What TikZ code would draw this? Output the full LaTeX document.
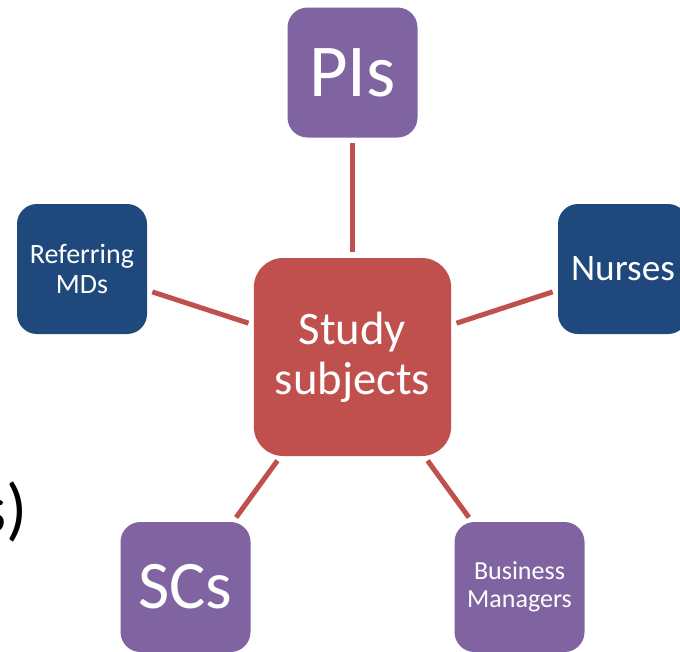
\documentclass[tikz,border=0pt]{standalone}
\usepackage{fontspec}
\setmainfont{Carlito}
\definecolor{boxpurple}{HTML}{8064A2}
\definecolor{boxblue}{HTML}{1F497D}
\definecolor{boxred}{HTML}{C0504D}
\begin{document}
\begin{tikzpicture}[x=0.75pt,y=-0.75pt,
    role/.style={rounded corners=15pt,text=white,minimum width=97.5pt,minimum height=97.5pt,align=center,inner sep=0pt},
    hub/.style={role,fill=boxred,minimum width=148pt,minimum height=148.5pt,rounded corners=22pt},
    link/.style={draw=boxred,line width=3.75pt,shorten >=4pt,shorten <=4pt}]
    \useasboundingbox (0,0) rectangle (680,651);
    \node[hub,font=\fontsize{35}{37.5}\selectfont] (study) at (352.5,357) {Study\\subjects};
    \node[role,fill=boxpurple,font=\fontsize{56}{60}\selectfont] (pis) at (352.5,72.5) {PIs};
    \node[role,fill=boxblue,font=\fontsize{21}{23}\selectfont] (mds) at (82,269) {Referring\\MDs};
    \node[role,fill=boxblue,font=\fontsize{28}{30}\selectfont] (nurses) at (623,269) {Nurses};
    \node[role,fill=boxpurple,font=\fontsize{51}{54}\selectfont] (scs) at (185.5,587) {SCs};
    \node[role,fill=boxpurple,font=\fontsize{19.5}{21}\selectfont] (bm) at (519.5,587) {Business\\Managers};
    \node[anchor=base east,inner sep=0pt,font=\fontsize{52}{56}\selectfont] (cut) at (28,532) {s)};
    % spokes
    \draw[link] (pis) -- (study);
    \draw[link] (mds) -- (study);
    \draw[link] (nurses) -- (study);
    \draw[link] (scs) -- (study);
    \draw[link] (bm) -- (study);
\end{tikzpicture}
\end{document}
